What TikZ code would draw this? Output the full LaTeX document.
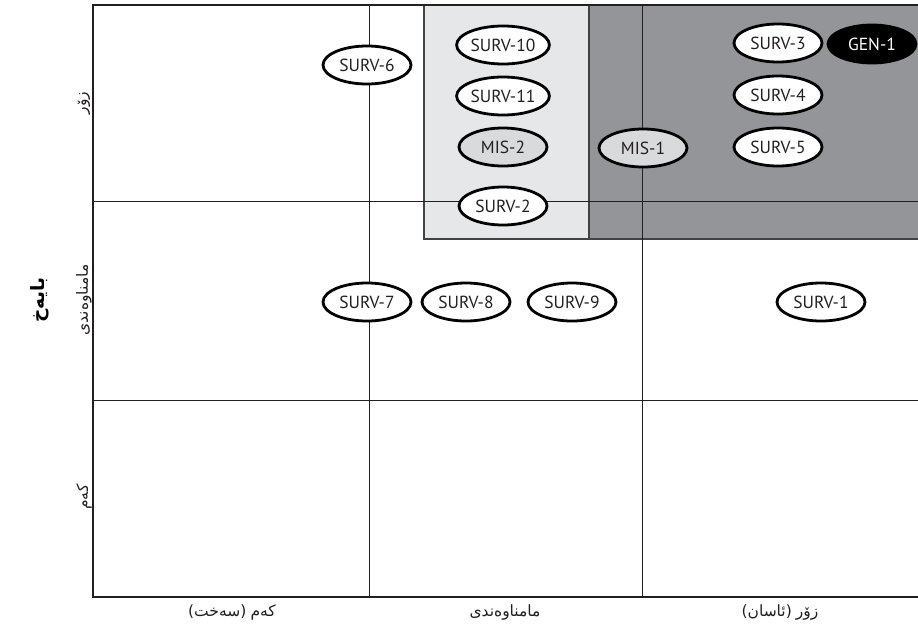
\documentclass[tikz,border=0pt]{standalone}
\usepackage{fontspec}
\setmainfont{PT Sans}
\newfontfamily\arabicfont[Script=Arabic]{DejaVu Sans}
\newfontfamily\parenfont{DejaVu Sans}
\TeXXeTstate=1
\usepackage{xcolor}
\usetikzlibrary{shapes.geometric}
\definecolor{zonelight}{HTML}{E6E7E8}
\definecolor{zonedark}{HTML}{939598}
\definecolor{misfill}{HTML}{D9DADC}
\definecolor{inkgray}{HTML}{231F20}
\newcommand{\kuword}[1]{{\arabicfont\beginR #1\endR}}

\begin{document}
\begin{tikzpicture}[x=1pt, y=-1pt,
  item/.style={ellipse, draw=black, line width=2.8pt, fill=white,
               minimum width=88pt, minimum height=38pt, inner sep=0.5pt,
               text=inkgray, font=\fontsize{17.5}{19}\selectfont},
  misitem/.style={item, fill=misfill},
  genitem/.style={item, fill=black, text=white},
  zone/.style={draw=inkgray!85, line width=1.1pt},
  grid/.style={draw=inkgray, line width=0.8pt},
  axislabel/.style={font=\fontsize{15.5}{17}\selectfont, text=inkgray}
]
\useasboundingbox (0,0) rectangle (918,629);

\fill[zonelight] (424,5) rectangle (589,239);
\fill[zonedark] (589,5) rectangle (918,239);
\draw[zone] (918,239) -- (424,239) -- (424,5);
\draw[zone] (589,5) -- (589,239);

\draw[grid] (369,5) -- (369,597);
\draw[grid] (642,5) -- (642,597);
\draw[grid] (93,201) -- (918,201);
\draw[grid] (93,400) -- (918,400);
\draw[line width=2.6pt, inkgray] (918,5) -- (93,5) -- (93,597) -- (918,597);

\node[item] (s6)  at (367,65)  {SURV-6};
\node[item] (s10) at (503,45)  {SURV-10};
\node[item] (s11) at (503,96)  {SURV-11};
\node[misitem] (m2) at (503,147) {MIS-2};
\node[item] (s2)  at (503,206) {SURV-2};
\node[misitem] (m1) at (643,148) {MIS-1};
\node[item] (s3)  at (778,43)  {SURV-3};
\node[genitem] (g1) at (872,44) {GEN-1};
\node[item] (s4)  at (778,95)  {SURV-4};
\node[item] (s5)  at (778,147) {SURV-5};
\node[item] (s7)  at (367,302) {SURV-7};
\node[item] (s8)  at (466,302) {SURV-8};
\node[item] (s9)  at (572,302) {SURV-9};
\node[item] (s1)  at (821,302) {SURV-1};

\node[axislabel, rotate=90] (yhigh) at (84,103) {\kuword{زۆر}};
\node[axislabel, rotate=90] (ymid)  at (84,300) {\kuword{مامناوەندی}};
\node[axislabel, rotate=90] (ylow)  at (84,497) {\kuword{کەم}};
\node[font=\bfseries\fontsize{18.5}{20}\selectfont, rotate=90] (ytitle) at (40,300) {\kuword{بایەخ}};

\node[axislabel] (xlow)  at (232,612) {{\parenfont(}\kuword{سەخت}{\parenfont)} \kuword{کەم}};
\node[axislabel] (xmid)  at (505,612) {\kuword{مامناوەندی}};
\node[axislabel] (xhigh) at (780,612) {{\parenfont(}\kuword{ئاسان}{\parenfont)} \kuword{زۆر}};
\end{tikzpicture}
\end{document}
